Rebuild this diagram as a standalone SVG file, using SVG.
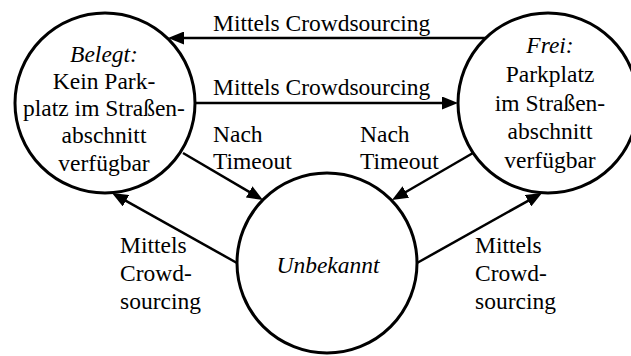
<svg xmlns="http://www.w3.org/2000/svg" width="631" height="356" viewBox="0 0 631 356" font-family="'Liberation Serif', 'DejaVu Serif', serif" font-size="23.5">
  <style>
    .state { fill: #ffffff; stroke: #000000; stroke-width: 3; }
    .edge { fill: none; stroke: #000000; stroke-width: 2.5; marker-end: url(#arrow); }
    .c { text-anchor: middle; }
    .it { font-style: italic; }
  </style>
  <defs>
    <marker id="arrow" viewBox="0 0 16 13" markerWidth="16" markerHeight="13" refX="2" refY="6.5" orient="auto" markerUnits="userSpaceOnUse">
      <path d="M0,0 L16,6.5 L0,13 Z" fill="#000000"/>
    </marker>
  </defs>

  <rect width="631" height="356" fill="#ffffff"/>

  <!-- transitions -->
  <g id="connectors">
    <path class="edge" d="M486,38 L182,38"/>
    <path class="edge" d="M195,103 L444,103"/>
    <path class="edge" d="M183,153 L250.9,192.9"/>
    <path class="edge" d="M473,153 L404.1,193"/>
    <path class="edge" d="M237,263 L124.2,199.8"/>
    <path class="edge" d="M417,263 L529.8,199.8"/>

    <text x="213" y="31">Mittels Crowdsourcing</text>
    <text x="213" y="95">Mittels Crowdsourcing</text>
    <text x="213" y="141.5">Nach</text>
    <text x="213" y="169">Timeout</text>
    <text x="360" y="141.5">Nach</text>
    <text x="360" y="169">Timeout</text>
    <text x="120" y="253">Mittels</text>
    <text x="120" y="281">Crowd-</text>
    <text x="120" y="308.5">sourcing</text>
    <text x="475" y="253">Mittels</text>
    <text x="475" y="281">Crowd-</text>
    <text x="475" y="308.5">sourcing</text>
  </g>

  <!-- state: occupied -->
  <g id="belegt">
    <circle class="state" cx="105" cy="103" r="90"/>
    <text class="c it" x="104" y="61.5">Belegt:</text>
    <text class="c" x="104" y="88.5">Kein Park-</text>
    <text class="c" x="104" y="116">platz im Straßen-</text>
    <text class="c" x="104" y="143">abschnitt</text>
    <text class="c" x="104" y="170.5">verfügbar</text>
  </g>

  <!-- state: free -->
  <g id="frei">
    <circle class="state" cx="548" cy="103" r="90"/>
    <text class="c it" x="550" y="53">Frei:</text>
    <text class="c" x="550" y="82">Parkplatz</text>
    <text class="c" x="550" y="110.5">im Straßen-</text>
    <text class="c" x="550" y="139">abschnitt</text>
    <text class="c" x="550" y="168">verfügbar</text>
  </g>

  <!-- state: unknown -->
  <g id="unbekannt">
    <circle class="state" cx="327" cy="263" r="90"/>
    <text class="c it" x="328" y="273">Unbekannt</text>
  </g>
</svg>
